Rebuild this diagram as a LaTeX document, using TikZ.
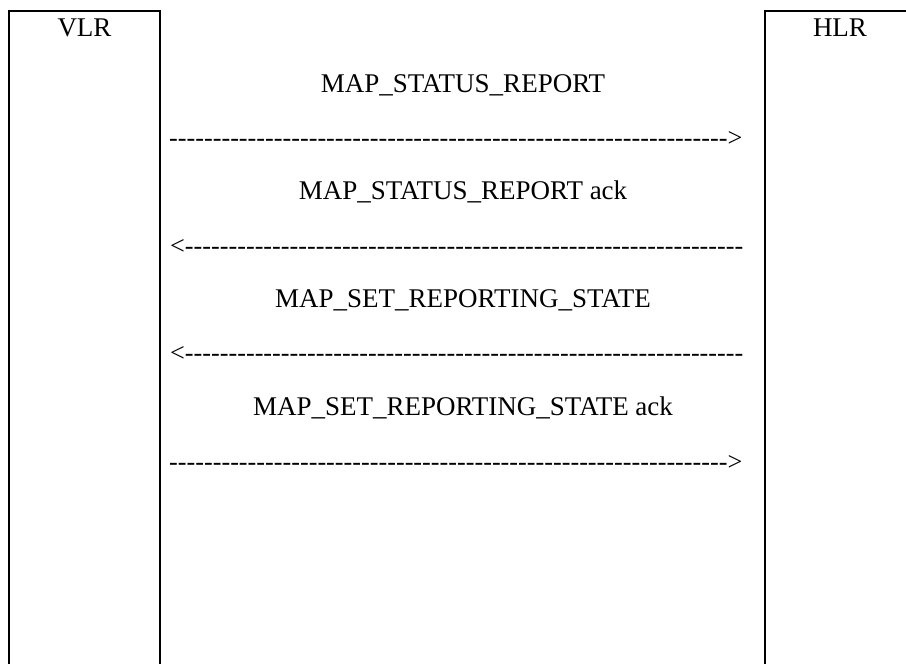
\documentclass[tikz,border=0pt]{standalone}
\usepackage{fontspec}
\setmainfont{Liberation Serif}
\newfontfamily\dashfont{Liberation Serif}
\newcommand\hyrun{\foreach\i in {1,...,64}{-\kern0pt}}
\begin{document}
\begin{tikzpicture}[x=1pt,y=-1pt,
  box/.style={draw, line width=2pt},
  lbl/.style={font=\fontsize{27}{31}\selectfont, anchor=base, inner sep=0pt},
  arr/.style={font=\dashfont\fontsize{26.2}{30}\selectfont, anchor=base west, inner sep=0pt}]
\useasboundingbox (0,0) rectangle (906,664);
\clip (0,0) rectangle (906,664);
\draw[box] (9,680) -- (9,11) -- (160,11) -- (160,680);
\draw[box] (765,680) -- (765,11) -- (920,11);
\node[lbl] (vlr) at (84.5,36) {VLR};
\node[lbl] (hlr) at (840,36) {HLR};
\node[lbl] (m1) at (463,92) {MAP\_STATUS\_REPORT};
\node[arr] (a1) at (169,146.5) {\hyrun>};
\node[lbl] (m2) at (463,199.5) {MAP\_STATUS\_REPORT ack};
\node[arr] (a2) at (170,254) {<\hyrun};
\node[lbl] (m3) at (463,307) {MAP\_SET\_REPORTING\_STATE};
\node[arr] (a3) at (170,361.5) {<\hyrun};
\node[lbl] (m4) at (463,415) {MAP\_SET\_REPORTING\_STATE ack};
\node[arr] (a4) at (169,470) {\hyrun>};
\end{tikzpicture}
\end{document}
